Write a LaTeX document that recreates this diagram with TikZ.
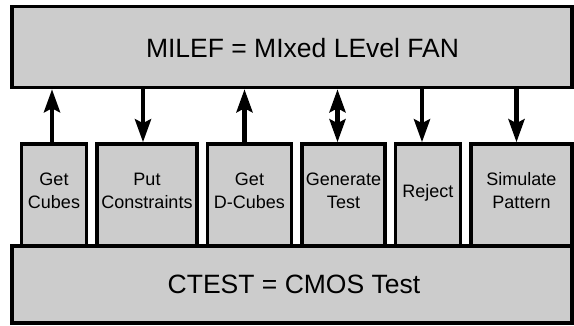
\documentclass[tikz,border=0pt]{standalone}
\usepackage{fontspec}
\setmainfont{Liberation Sans}
\usetikzlibrary{arrows.meta, positioning}
\definecolor{panelgrey}{HTML}{CCCCCC}
\tikzset{
    layer/.style={
        rectangle, draw=black, line width=3.5pt, fill=panelgrey,
        minimum width=560pt, inner sep=0pt
    },
    layertext/.style={font=\fontsize{26.5}{30}\selectfont},
    proc/.style={
        rectangle, draw=black, line width=3.5pt, fill=panelgrey,
        minimum height=102pt, inner sep=0pt, text depth=9pt,
        align=center, font=\fontsize{18}{23}\selectfont
    },
    tip/.style={Stealth[length=23pt, width=16pt, inset=4pt]},
    arrow/.style={-{Stealth[length=23pt, width=16pt, inset=4pt]}, line width=4.5pt},
    twoway/.style={{Stealth[length=23pt, width=16pt, inset=4pt]}-{Stealth[length=23pt, width=16pt, inset=4pt]}, line width=4.5pt}
}

\begin{document}
\begin{tikzpicture}[x=1pt, y=1pt, node distance=7pt]
\useasboundingbox (0,0) rectangle (574,325);

% ── Layers ───────────────────────────────────────────────────────────────────
\node[layer, minimum height=81pt] (milef) at (292,278) {};
\node[layertext] (mileftext) at (302.5,277) {MILEF = MIxed LEvel FAN};

\node[layer, minimum height=77pt] (ctest) at (292,40.5) {};
\node[layertext] (ctesttext) at (294,40.5) {CTEST = CMOS Test};

% ── Procedures ───────────────────────────────────────────────────────────────
\node[proc, minimum width=65pt] (cubes) at (54,130) {Get\\Cubes};
\node[proc, minimum width=100pt, right=of cubes] (constr) {Put\\Constraints};
\node[proc, minimum width=84pt, right=of constr] (dcubes) {Get\\D-Cubes};
\node[proc, minimum width=83pt, right=of dcubes] (gentest) {Generate\\Test};
\node[proc, minimum width=65pt, right=of gentest] (reject) {Reject};
\node[proc, minimum width=101pt, right=of reject] (simul) {Simulate\\Pattern};

% ── Arrows ───────────────────────────────────────────────────────────────────
\draw[arrow]  ([xshift=-2pt]cubes.north)   -- ([xshift=-2pt]cubes.north |- milef.south);
\draw[arrow]  ([xshift=-4pt]constr.north |- milef.south) -- ([xshift=-4pt]constr.north);
\draw[arrow]  ([xshift=-5pt]dcubes.north)  -- ([xshift=-5pt]dcubes.north |- milef.south);
\draw[twoway] ([xshift=-6pt]gentest.north) -- ([xshift=-6pt]gentest.north |- milef.south);
\draw[arrow]  ([xshift=-6pt]reject.north |- milef.south) -- ([xshift=-6pt]reject.north);
\draw[arrow]  ([xshift=-5pt]simul.north |- milef.south)  -- ([xshift=-5pt]simul.north);

\end{tikzpicture}
\end{document}
